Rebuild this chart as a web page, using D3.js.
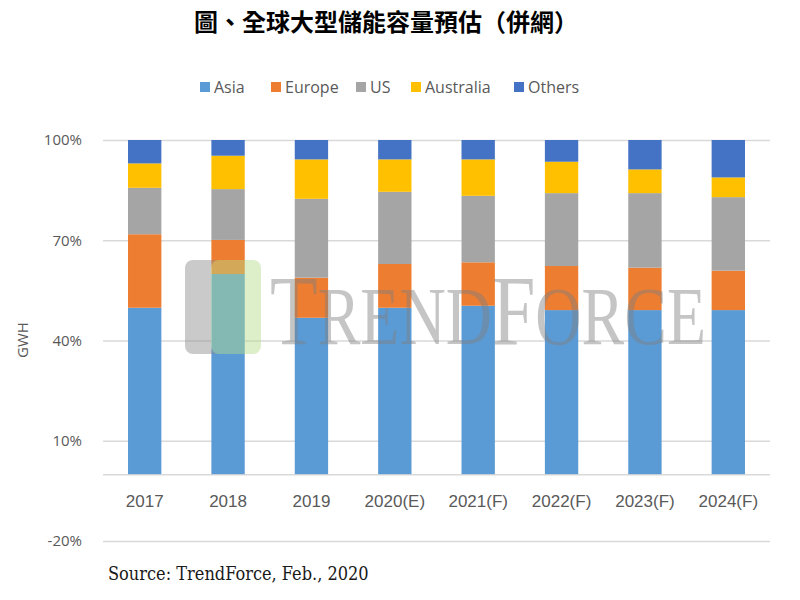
<!DOCTYPE html>
<html>
<head>
<meta charset="utf-8">
<script src="https://cdn.jsdelivr.net/npm/d3@7"></script>
<style>
  body { margin: 0; background: #fff; }
  svg { display: block; }
</style>
</head>
<body>
<div id="chart"></div>
<script>
const categories = ['2017', '2018', '2019', '2020(E)', '2021(F)', '2022(F)', '2023(F)', '2024(F)'];
const seriesNames = ['Asia', 'Europe', 'US', 'Australia', 'Others'];
const asia = [49.8, 59.9, 46.8, 49.8, 50.4, 49.1, 49.1, 49.1];
const europe = [22.0, 10.2, 12.0, 13.1, 13.0, 13.2, 12.7, 11.8];
const us = [13.9, 15.2, 23.6, 21.6, 19.9, 21.8, 22.3, 22.0];
const australia = [7.3, 10.0, 11.8, 9.7, 10.9, 9.4, 7.1, 5.9];
const others = [7.0, 4.7, 5.8, 5.8, 5.8, 6.5, 8.8, 11.2];
const yTicks = [-20, 10, 40, 70, 100];
const colors = ['#5b9bd5', '#ed7d31', '#a5a5a5', '#ffc000', '#4472c4'];

const width = 800;
const height = 600;
const margin = { top: 140, right: 30, bottom: 59, left: 103 };

const rows = categories.map((c, i) => ({
    cat: c,
    Asia: asia[i],
    Europe: europe[i],
    US: us[i],
    Australia: australia[i],
    Others: others[i],
}));

const svg = d3.select('#chart')
    .append('svg')
    .attr('width', width)
    .attr('height', height);

// title
svg.append('text')
    .attr('x', 386)
    .attr('y', 31)
    .attr('text-anchor', 'middle')
    .attr('font-family', '"Noto Sans CJK TC", sans-serif')
    .attr('font-weight', 700)
    .attr('font-size', 24)
    .attr('fill', '#000')
    .text('圖、全球大型儲能容量預估（併網）');

// legend
const legendX = [200, 271, 356, 411, 514];
const legend = svg.append('g')
    .attr('font-family', '"Open Sans", sans-serif')
    .attr('font-size', 16)
    .attr('fill', '#595959');
seriesNames.forEach((name, i) => {
    legend.append('rect')
        .attr('x', legendX[i])
        .attr('y', 82)
        .attr('width', 10)
        .attr('height', 10)
        .attr('fill', colors[i]);
    legend.append('text')
        .attr('x', legendX[i] + 14)
        .attr('y', 93)
        .text(name);
});

const x = d3.scaleBand()
    .domain(categories)
    .range([margin.left, width - margin.right])
    .paddingInner(0.6)
    .paddingOuter(0.3);

const y = d3.scaleLinear()
    .domain([-20, 100])
    .range([height - margin.bottom, margin.top]);

// gridlines
svg.append('g')
    .attr('class', 'grid')
    .selectAll('line')
    .data(yTicks.concat([0]))
    .enter()
    .append('line')
    .attr('x1', margin.left)
    .attr('x2', width - margin.right)
    .attr('y1', d => y(d) + 0.5)
    .attr('y2', d => y(d) + 0.5)
    .attr('stroke', '#d9d9d9')
    .attr('stroke-width', 1.5);

// y axis labels
const yAxis = svg.append('g')
    .attr('transform', `translate(${margin.left - 18},0)`)
    .call(d3.axisLeft(y).tickValues(yTicks).tickSize(0).tickFormat(d => `${d}%`));
yAxis.select('.domain').remove();
yAxis.selectAll('text')
    .attr('font-family', '"Open Sans", sans-serif')
    .attr('font-size', 15)
    .attr('fill', '#595959');

// stacked bars
const stack = d3.stack().keys(seriesNames);
const layers = stack(rows);

svg.append('g')
    .selectAll('g')
    .data(layers)
    .enter()
    .append('g')
    .attr('fill', (d, i) => colors[i])
    .selectAll('rect')
    .data(d => d)
    .enter()
    .append('rect')
    .attr('x', d => x(d.data.cat))
    .attr('width', x.bandwidth())
    .attr('y', d => y(d[1]))
    .attr('height', d => y(d[0]) - y(d[1]));

// x labels
const xAxis = svg.append('g')
    .attr('transform', `translate(0,${y(0) + 18})`)
    .call(d3.axisBottom(x).tickSize(0));
xAxis.select('.domain').remove();
xAxis.selectAll('text')
    .attr('font-family', '"Liberation Sans Narrow", sans-serif')
    .attr('font-size', 17)
    .attr('fill', '#595959');

// watermark
const wm = svg.append('g').attr('opacity', 0.45);
wm.append('rect')
    .attr('x', 185).attr('y', 260).attr('width', 47).attr('height', 94)
    .attr('rx', 8).attr('fill', '#8c8c8c');
wm.append('rect')
    .attr('x', 211).attr('y', 260).attr('width', 50).attr('height', 94)
    .attr('rx', 8).attr('fill', '#b5dc8a');
const wmText = wm.append('text')
    .attr('font-family', '"Liberation Serif", serif')
    .attr('fill', '#7f7f7f');
[['T', 100], ['REND', 82], ['F', 100], ['ORCE', 82]].forEach(([t, s]) => {
    wmText.append('tspan').attr('font-size', s).text(t);
});
const wmWidth = wmText.node().getComputedTextLength();
wmText.attr('transform', `translate(270,344) scale(${436 / wmWidth},1)`);

// y title
svg.append('text')
    .attr('transform', 'translate(28,340) rotate(-90)')
    .attr('text-anchor', 'middle')
    .attr('font-family', '"Open Sans", sans-serif')
    .attr('font-size', 15)
    .attr('fill', '#595959')
    .text('GWH');

// source
svg.append('text')
    .attr('x', 108)
    .attr('y', 580)
    .attr('font-family', '"DejaVu Serif Condensed", serif')
    .attr('font-size', 18)
    .attr('fill', '#1a1a1a')
    .text('Source: TrendForce, Feb., 2020');
</script>
</body>
</html>
